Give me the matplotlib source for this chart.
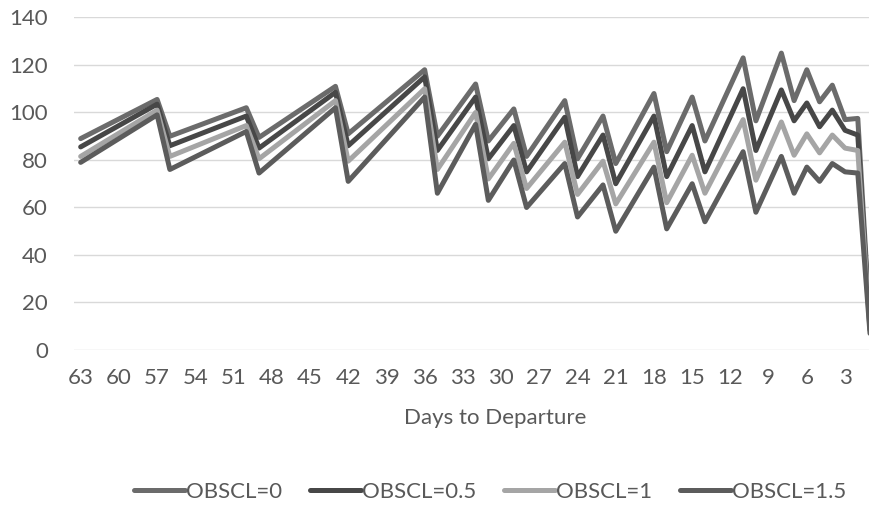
import matplotlib
matplotlib.use("Agg")
import matplotlib.pyplot as plt

# days to departure where the price paths change direction
days = [63, 57, 56, 50, 49, 43, 42, 36, 35, 32, 31, 29, 28, 25, 24, 22, 21,
        18, 17, 15, 14, 11, 10, 8, 7, 6, 5, 4, 3, 2, 1]

obscl_0 = [89, 105.5, 90, 102, 89.5, 111, 91, 118, 90, 112, 88, 101.5, 81.5,
           105, 80.5, 98.5, 78.5, 108, 83.5, 106.5, 88, 123, 96.5, 125, 105,
           118, 104.5, 111.5, 97, 97.5, 6]
obscl_05 = [85.5, 103.5, 86, 98.5, 85, 108.5, 86, 115, 84, 106.5, 80.5, 94.5,
            75, 98, 73, 90.5, 70, 98.5, 73, 94.5, 75, 110, 84, 109.5, 96.5,
            104, 94, 101, 92.5, 90.5, 5]
obscl_1 = [81.5, 101, 81.5, 94.5, 80.5, 105, 79.5, 110, 76, 100, 72, 87, 68,
           87.5, 65.5, 79.5, 61.5, 87.5, 62, 82, 66, 97, 71.5, 96, 82, 91, 83,
           90.5, 85, 84, 5]
obscl_15 = [79, 99, 76, 92, 74.5, 102, 71, 106.5, 66, 95, 63, 80, 60, 78.5,
            56, 69.5, 50, 77, 51, 70, 54, 83.5, 58, 81.5, 66, 77, 71, 78.5,
            75, 74.5, 4]

series = [obscl_0, obscl_05, obscl_1, obscl_15]
labels = ["OBSCL=0", "OBSCL=0.5", "OBSCL=1", "OBSCL=1.5"]
colors = ["#6b6b6b", "#474747", "#a5a5a5", "#5c5c5c"]

x_ticks = list(range(63, 0, -3))
y_ticks = list(range(0, 141, 20))

plt.rcParams["font.family"] = ["Lato", "DejaVu Sans"]
text_color = "#595959"

fig = plt.figure(figsize=(8.69, 5.07), dpi=100)
# plot area runs a little past the right edge, so the last day is cut off
ax = fig.add_axes([0.0855, 0.3097, 0.9236, 0.6558])

for vals, lab, col in zip(series, labels, colors):
    ax.plot(days, vals, color=col, lw=3.6, label=lab,
            solid_joinstyle="round", solid_capstyle="round")

ax.set_xlim(63.5, 0.5)
ax.set_ylim(0, 140)
ax.set_xticks(x_ticks)
ax.set_xticklabels([str(d) for d in x_ticks])
ax.set_yticks(y_ticks)

ax.grid(axis="y", color="#d9d9d9", lw=1)
ax.set_axisbelow(True)
for s in ax.spines.values():
    s.set_visible(False)

ax.tick_params(axis="both", length=0, labelsize=16, labelcolor=text_color)
ax.tick_params(axis="x", pad=13)
ax.tick_params(axis="y", pad=19)

ax.set_xlabel("Days to Departure", fontsize=16, color=text_color)
ax.xaxis.set_label_coords(0.524, -0.175)

fig.legend(loc="center", bbox_to_anchor=(0.564, 0.03), ncol=4,
           frameon=False, fontsize=16, handlelength=2.3, handletextpad=0.05,
           columnspacing=1.25, labelcolor=text_color)

fig.savefig("out.png", dpi=100)
